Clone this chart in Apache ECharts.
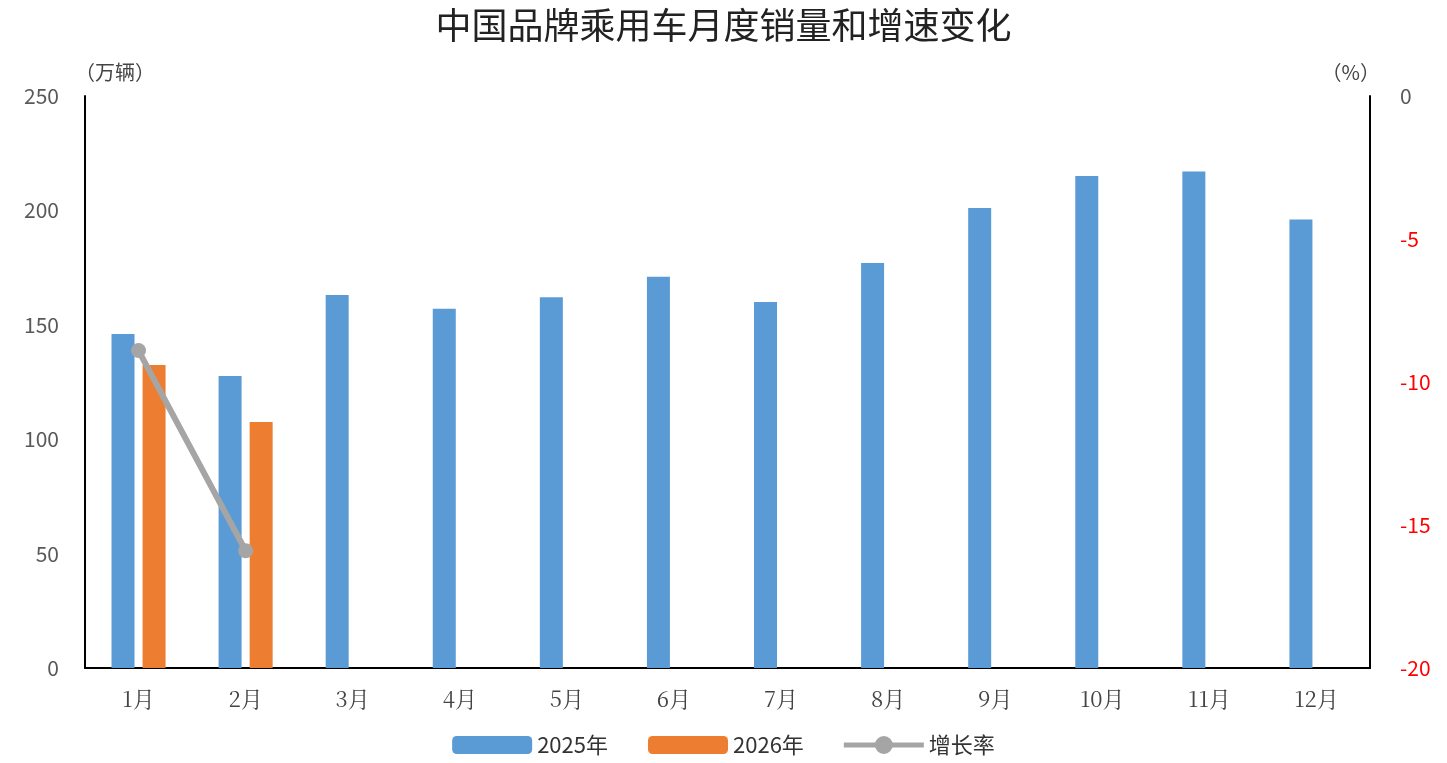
<!DOCTYPE html><html><head><meta charset="utf-8">
<script src="https://cdn.jsdelivr.net/npm/echarts@6/dist/echarts.min.js"></script>
<style>html,body{margin:0;background:#fff}#c{width:1447px;height:763px}</style></head><body><div id="c"></div>
<script>
const categories=['1月','2月','3月','4月','5月','6月','7月','8月','9月','10月','11月','12月'];
const sales2025=[146,127.6,163,157,162,171,160,177,201,215,217,196];
const sales2026=[132.4,107.5,null,null,null,null,null,null,null,null,null,null];
const growth=[-8.9,-15.9,null,null,null,null,null,null,null,null,null,null];
const font='"Noto Sans CJK SC","Noto Sans",sans-serif';
const chart=echarts.init(document.getElementById('c'));
chart.setOption({
  animation:false,
  textStyle:{fontFamily:font},
  title:{text:'中国品牌乘用车月度销量和增速变化',left:'center',top:2,textStyle:{fontSize:36,fontWeight:'normal',color:'#222',fontFamily:font}},
  grid:{left:85,right:77,top:96,bottom:95},
  legend:{bottom:2,itemGap:40,itemWidth:80,itemHeight:18,textStyle:{fontSize:22,color:'#333'},
    data:['2025年','2026年',{name:'增长率',icon:'path://M0,-2.5L80,-2.5L80,2.5L0,2.5Z M40,-9A9,9 0 1,1 39.99,-9Z'}]},
  xAxis:{type:'category',data:categories,axisLine:{lineStyle:{color:'#000',width:2}},axisTick:{show:false},
    axisLabel:{fontSize:22,color:'#444',margin:20,fontFamily:'"Noto Serif CJK SC",serif'}},
  yAxis:[
    {type:'value',min:0,max:250,interval:50,name:'（万辆）',nameGap:14,nameTextStyle:{fontSize:20,color:'#444',align:'left',padding:[0,0,0,-10]},
     splitLine:{show:false},axisLine:{show:true,lineStyle:{color:'#000',width:2}},
     axisLabel:{fontSize:21,color:'#595959',margin:26}},
    {type:'value',min:-20,max:0,interval:5,name:'（%）',nameGap:14,nameTextStyle:{fontSize:20,color:'#444',align:'right',padding:[0,-10,0,0]},
     splitLine:{show:false},axisLine:{show:true,lineStyle:{color:'#000',width:2}},
     axisLabel:{fontSize:21,margin:30,color:v=>v==0?'#595959':'#ff0000'}}
  ],
  series:[
    {name:'2025年',type:'bar',data:sales2025,barWidth:23,barGap:'35%',itemStyle:{color:'#5b9bd5'}},
    {name:'2026年',type:'bar',data:sales2026,barWidth:23,itemStyle:{color:'#ed7d31'}},
    {name:'增长率',type:'line',yAxisIndex:1,data:growth,symbol:'circle',symbolSize:15,
     lineStyle:{color:'#a5a5a5',width:6},itemStyle:{color:'#a5a5a5'}}
  ]
});
</script></body></html>
